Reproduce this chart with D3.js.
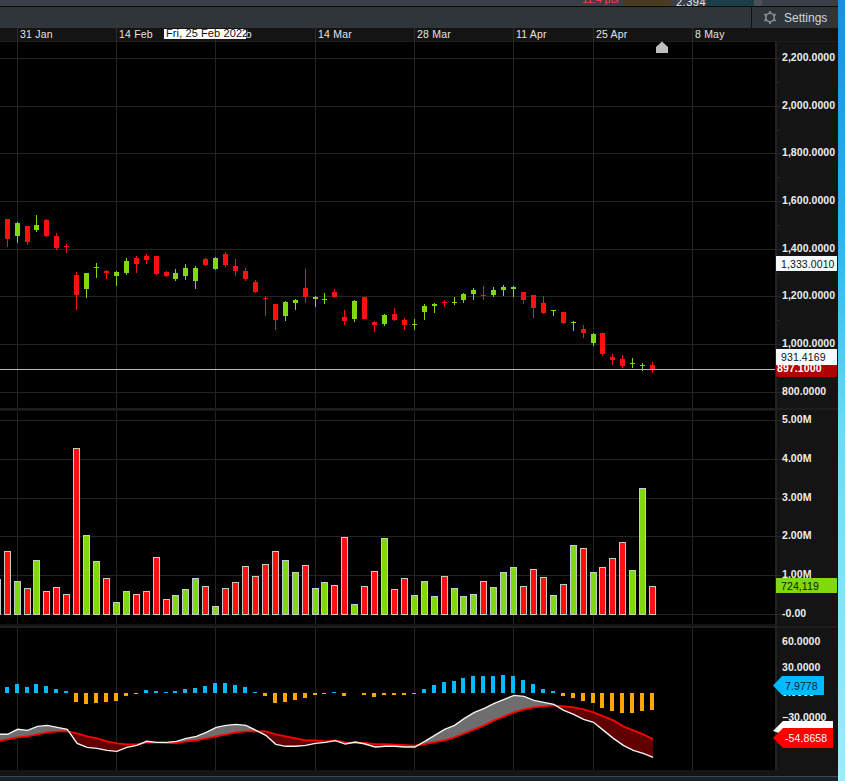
<!DOCTYPE html>
<html>
<head>
<meta charset="utf-8">
<script src="https://cdn.jsdelivr.net/npm/d3@7"></script>
<style>
  html, body { margin: 0; padding: 0; background: #141414; overflow: hidden; }
  svg { display: block; }
  text { font-family: "Liberation Sans", Arial, sans-serif; }
  .axis text { fill: #eeeeee; font-size: 10.5px; font-weight: bold; letter-spacing: 0.05px; }
  .axis path { display: none; }
  .axis line { stroke: #262626; }
</style>
</head>
<body>
<div id="chart"></div>
<script>
// ── Sessions (first one sits just off the left edge, last four are empty future slots) ──
const sessions = [
  '27 Jan', '28 Jan', '31 Jan', '1 Feb', '2 Feb', '3 Feb', '4 Feb', '7 Feb', '8 Feb', '9 Feb', '10 Feb', '11 Feb',
  '14 Feb', '15 Feb', '16 Feb', '17 Feb', '18 Feb', '21 Feb', '22 Feb', '23 Feb', '24 Feb', '25 Feb',
  '28 Feb', '1 Mar', '2 Mar', '3 Mar', '4 Mar', '7 Mar', '8 Mar', '9 Mar', '10 Mar', '11 Mar',
  '14 Mar', '15 Mar', '16 Mar', '17 Mar', '18 Mar', '21 Mar', '22 Mar', '23 Mar', '24 Mar', '25 Mar',
  '28 Mar', '29 Mar', '30 Mar', '31 Mar', '1 Apr', '4 Apr', '5 Apr', '6 Apr', '7 Apr', '8 Apr',
  '11 Apr', '12 Apr', '13 Apr', '14 Apr', '19 Apr', '20 Apr', '21 Apr', '22 Apr',
  '25 Apr', '26 Apr', '27 Apr', '28 Apr', '29 Apr', '2 May', '3 May',
  '4 May', '5 May', '6 May', '8 May'
];

const opens = [1526, 1526, 1454, 1496, 1480, 1522, 1454, 1412, 1291, 1232, 1320, 1308, 1287, 1299, 1362, 1370, 1370, 1303, 1274, 1287, 1266, 1358, 1316, 1379, 1329, 1308, 1261, 1194, 1169, 1119, 1173, 1236, 1190, 1186, 1219, 1114, 1106, 1198, 1094, 1085, 1127, 1102, 1081, 1135, 1161, 1177, 1173, 1186, 1211, 1207, 1207, 1228, 1232, 1219, 1207, 1173, 1140, 1135, 1089, 1064, 1005, 1047, 947, 938, 917, 909, 913];
const highs = [1535, 1526, 1513, 1496, 1543, 1526, 1467, 1421, 1303, 1299, 1341, 1312, 1308, 1362, 1370, 1379, 1370, 1308, 1316, 1337, 1329, 1362, 1366, 1387, 1358, 1320, 1270, 1203, 1169, 1182, 1190, 1316, 1203, 1215, 1232, 1144, 1186, 1198, 1098, 1127, 1152, 1110, 1106, 1169, 1173, 1186, 1198, 1215, 1236, 1245, 1240, 1249, 1245, 1219, 1207, 1203, 1144, 1135, 1098, 1081, 1047, 1047, 959, 955, 942, 921, 926];
const lows = [1470, 1408, 1425, 1417, 1471, 1449, 1396, 1383, 1144, 1194, 1278, 1274, 1245, 1291, 1299, 1337, 1291, 1282, 1266, 1270, 1232, 1329, 1312, 1324, 1287, 1266, 1215, 1119, 1060, 1098, 1144, 1173, 1156, 1169, 1194, 1081, 1094, 1106, 1052, 1077, 1098, 1060, 1060, 1102, 1131, 1156, 1165, 1173, 1186, 1186, 1198, 1203, 1198, 1169, 1110, 1127, 1119, 1085, 1056, 1026, 993, 951, 913, 900, 900, 888, 879];
const closes = [1500, 1442, 1509, 1429, 1501, 1454, 1404, 1408, 1207, 1299, 1324, 1299, 1303, 1349, 1337, 1354, 1295, 1287, 1299, 1320, 1320, 1333, 1362, 1333, 1308, 1274, 1219, 1190, 1102, 1177, 1186, 1198, 1198, 1190, 1198, 1098, 1182, 1106, 1081, 1123, 1102, 1081, 1085, 1161, 1169, 1173, 1177, 1211, 1228, 1203, 1228, 1240, 1240, 1186, 1152, 1131, 1144, 1089, 1094, 1047, 1043, 959, 934, 909, 921, 913, 897.1];

// Volume in millions
const volumes = [0.89, 1.63, 0.85, 0.67, 1.39, 0.59, 0.70, 0.52, 4.28, 2.04, 1.37, 0.93, 0.31, 0.59, 0.52, 0.59, 1.47, 0.39, 0.49, 0.65, 0.93, 0.72, 0.21, 0.67, 0.83, 1.24, 0.98, 1.29, 1.63, 1.39, 1.08, 1.26, 0.67, 0.83, 0.75, 1.99, 0.26, 0.72, 1.11, 1.96, 0.65, 0.93, 0.49, 0.85, 0.46, 0.98, 0.67, 0.46, 0.52, 0.85, 0.70, 1.08, 1.21, 0.72, 1.16, 0.95, 0.49, 0.77, 1.78, 1.70, 1.08, 1.21, 1.44, 1.86, 1.14, 3.25, 0.724];

const macdLine = [-48.9, -48.9, -43.0, -44.2, -39.5, -38.3, -40.7, -43.0, -59.6, -64.3, -65.5, -67.9, -69.1, -64.3, -62.0, -57.2, -58.4, -58.4, -57.2, -53.7, -51.3, -46.6, -40.7, -38.3, -37.1, -38.3, -44.2, -50.1, -60.8, -63.1, -63.1, -62.0, -59.6, -58.4, -56.4, -60.4, -58.0, -60.4, -63.9, -63.1, -63.1, -63.9, -63.9, -57.2, -50.1, -43.0, -38.3, -30.0, -22.9, -18.2, -12.3, -7.5, -2.8, -4.0, -8.7, -11.1, -13.4, -20.5, -25.3, -31.2, -34.7, -44.2, -53.7, -62.0, -67.9, -71.4, -76.2];
const signalLine = [-57.2, -54.9, -52.5, -51.3, -48.9, -46.6, -45.4, -45.4, -47.8, -51.3, -53.7, -57.2, -59.6, -60.8, -60.8, -58.8, -58.8, -59.2, -59.2, -57.2, -56.0, -53.7, -51.3, -48.9, -46.6, -45.4, -45.4, -45.4, -48.9, -51.3, -53.7, -56.0, -56.0, -57.2, -56.0, -58.4, -59.2, -59.2, -60.4, -60.4, -61.2, -61.6, -62.4, -60.4, -58.0, -56.0, -52.5, -47.8, -43.0, -38.3, -32.4, -27.6, -22.9, -19.4, -17.0, -15.8, -14.6, -15.8, -17.0, -19.4, -22.9, -27.6, -32.4, -39.5, -44.2, -48.9, -54.87];
const histogram = [5.9, 7.1, 10.7, 7.1, 10.7, 8.3, 4.7, 2.4, -10.7, -13.0, -11.8, -10.7, -9.5, -3.6, -1.2, 3.6, 2.4, 1.2, 2.4, 4.7, 5.9, 8.3, 11.8, 11.8, 9.5, 7.1, 1.2, -3.6, -11.8, -10.7, -8.3, -5.9, -2.4, -1.2, 1.2, -3.6, 0, -2.4, -4.7, -2.4, -2.4, -2.4, -1.2, 4.7, 9.5, 13.0, 14.2, 17.8, 20.1, 20.1, 20.1, 21.3, 20.1, 15.4, 10.7, 4.7, 2.4, -3.6, -5.9, -9.5, -11.8, -17.8, -21.3, -23.7, -23.7, -21.3, -20.1];

// ── Axis ticks ──
const dateTicks = ['31 Jan', '14 Feb', '28 Feb', '14 Mar', '28 Mar', '11 Apr', '25 Apr', '8 May'];
const priceTicks = [2200, 2000, 1800, 1600, 1400, 1200, 1000, 800];
const priceMinorTicks = [2100, 1900, 1700, 1500, 1300, 1100, 900];
const volumeTicks = [5, 4, 3, 2, 1, 0];
const volumeTickLabels = ['5.00M', '4.00M', '3.00M', '2.00M', '1.00M', '-0.00'];
const macdTicks = [60, 30, 0, -30];

// ── Readouts on the right ──
const lastVolumeLabel = '724,119';
const lastHistLabel = '7.9778';
const lastSignalLabel = '-54.8658';
const priceFlagHigh = 1333.001;
const priceFlagMid = 931.4169;
const lastPrice = 897.1;

const W = 845, H = 781;
const plotRight = 775, axisRight = 837;
const red = '#ff1010', green = '#7ed90f';

const svg = d3.select('#chart').append('svg').attr('width', W).attr('height', H);
const defs = svg.append('defs');

// ── Scales ──
const x = d3.scalePoint().domain(sessions).range([-2.75, -2.75 + 9.93 * (sessions.length - 1)]);
const col = function(i) { return Math.floor(x(sessions[i])); };
const yPrice = d3.scaleLinear().domain([2200, 800]).rangeRound([58, 391.7]);
const yVol = d3.scaleLinear().domain([0, 5]).rangeRound([614, 420]);
const yMacd = d3.scaleLinear().domain([0, 60]).range([693, 642.3]);

// ── Chrome ──
const wall = defs.append('linearGradient').attr('id', 'wall').attr('x1', 0).attr('x2', 0).attr('y1', 0).attr('y2', 1);
wall.append('stop').attr('offset', 0).attr('stop-color', '#1a8fe0');
wall.append('stop').attr('offset', 0.3).attr('stop-color', '#2ab4ee');
wall.append('stop').attr('offset', 0.55).attr('stop-color', '#6adbf5');
wall.append('stop').attr('offset', 1).attr('stop-color', '#9cecf9');

svg.append('rect').attr('width', W).attr('height', H).attr('fill', '#141414');
svg.append('rect').attr('x', 838).attr('width', 7).attr('height', H).attr('fill', 'url(#wall)');

// top strip
svg.append('rect').attr('width', 838).attr('height', 6).attr('fill', '#3a4049');
svg.append('rect').attr('y', 6).attr('width', 838).attr('height', 1).attr('fill', '#0a0a0a');
svg.append('rect').attr('y', 7).attr('width', 838).attr('height', 21).attr('fill', '#2f3539');
svg.append('rect').attr('x', 623).attr('width', 48).attr('height', 6).attr('fill', '#4a3a20');
svg.append('rect').attr('x', 707).attr('width', 47).attr('height', 6).attr('fill', '#1a3f4a');
svg.append('rect').attr('x', 754).attr('width', 8).attr('height', 6).attr('fill', '#4a5058');

const topClip = defs.append('clipPath').attr('id', 'topClip');
topClip.append('rect').attr('width', 838).attr('height', 6);
const topTexts = svg.append('g').attr('clip-path', 'url(#topClip)');
topTexts.append('text').attr('x', 582).attr('y', 3).attr('font-size', 10.5).attr('fill', '#ff3a3a').text('11.4 pts');
topTexts.append('text').attr('x', 676).attr('y', 6).attr('font-size', 11).attr('fill', '#e8e8e8').attr('letter-spacing', 0.5).text('2.394');

// settings button
svg.append('rect').attr('x', 751).attr('y', 7).attr('width', 1).attr('height', 21).attr('fill', '#101214');
const gear = svg.append('g').attr('transform', 'translate(770,17.5)');
gear.append('circle').attr('r', 4.2).attr('fill', 'none').attr('stroke', '#8b8f90').attr('stroke-width', 1.6);
d3.range(6).forEach(function(k) {
  const a = k * Math.PI / 3 + Math.PI / 6;
  gear.append('line')
    .attr('x1', Math.cos(a) * 4.2).attr('y1', Math.sin(a) * 4.2)
    .attr('x2', Math.cos(a) * 6.6).attr('y2', Math.sin(a) * 6.6)
    .attr('stroke', '#8b8f90').attr('stroke-width', 1.8);
});
svg.append('text').attr('x', 784).attr('y', 22).attr('font-size', 12).attr('fill', '#d4d6d6').text('Settings');

// ── Panels ──
const panels = [[41, 367], [411, 213], [628, 142]];
panels.forEach(function(p) {
  svg.append('rect').attr('x', 0).attr('y', p[0]).attr('width', plotRight).attr('height', p[1]).attr('fill', '#000');
});
svg.append('rect').attr('y', 408).attr('width', 838).attr('height', 2).attr('fill', '#1e1e1e');
svg.append('rect').attr('y', 626).attr('width', 838).attr('height', 2).attr('fill', '#1e1e1e');
svg.append('rect').attr('x', plotRight).attr('y', 41).attr('width', 2).attr('height', 729).attr('fill', '#222');
svg.append('rect').attr('y', 776).attr('width', 838).attr('height', 1).attr('fill', '#3b4650');
svg.append('rect').attr('y', 777).attr('width', 838).attr('height', 4).attr('fill', '#18222a');
svg.append('rect').attr('y', 41).attr('width', 838).attr('height', 1).attr('fill', '#1e1e1e');

// ── Vertical grid and date labels ──
const gridColor = '#242424';
dateTicks.forEach(function(d) {
  const gx = Math.floor(x(d)) + 0.5;
  panels.forEach(function(p) {
    svg.append('line').attr('x1', gx).attr('x2', gx).attr('y1', p[0]).attr('y2', p[0] + p[1]).attr('stroke', gridColor);
  });
  svg.append('line').attr('x1', gx).attr('x2', gx).attr('y1', 28).attr('y2', 41).attr('stroke', '#2c2c2c');
  svg.append('text').attr('x', gx + 2.5).attr('y', 38).attr('font-size', 10.5)
    .attr('letter-spacing', 0.2).attr('fill', '#e4e4e4').text(d);
});

// ── Horizontal grid ──
priceTicks.forEach(function(v) {
  svg.append('line').attr('x1', 0).attr('x2', plotRight).attr('y1', yPrice(v) + 0.5).attr('y2', yPrice(v) + 0.5).attr('stroke', gridColor);
});
volumeTicks.forEach(function(v) {
  svg.append('line').attr('x1', 0).attr('x2', plotRight).attr('y1', yVol(v) + 0.5).attr('y2', yVol(v) + 0.5).attr('stroke', gridColor);
});

// ── Candles ──
const candleData = closes.map(function(c, i) {
  return { i: i, o: opens[i], h: highs[i], l: lows[i], c: c, up: c >= opens[i] };
});
const candles = svg.append('g').selectAll('g').data(candleData).join('g')
  .attr('fill', function(d) { return d.up ? green : red; });
candles.append('rect')
  .attr('x', function(d) { return col(d.i); })
  .attr('width', 1)
  .attr('y', function(d) { return yPrice(d.h); })
  .attr('height', function(d) { return Math.max(1, yPrice(d.l) - yPrice(d.h)); });
candles.append('rect')
  .attr('x', function(d) { return col(d.i) - 2; })
  .attr('width', 5)
  .attr('y', function(d) { return yPrice(Math.max(d.o, d.c)); })
  .attr('height', function(d) { return Math.max(1, Math.abs(yPrice(d.o) - yPrice(d.c))); });

// last price line
svg.append('line').attr('x1', 0).attr('x2', plotRight)
  .attr('y1', yPrice(lastPrice) + 0.5).attr('y2', yPrice(lastPrice) + 0.5)
  .attr('stroke', '#b9b9b9');

// projected event marker
svg.append('path').attr('d', 'M656,53V47L662,41.5L668,47V53Z').attr('fill', '#bdbdbd');

// ── Volume bars ──
svg.append('g').selectAll('rect').data(volumes).join('rect')
  .attr('x', function(d, i) { return col(i) - 2.5; })
  .attr('width', 6)
  .attr('y', function(d) { return yVol(d) + 0.5; })
  .attr('height', function(d) { return 614 - yVol(d); })
  .attr('fill', function(d, i) { return closes[i] >= opens[i] ? green : red; })
  .attr('stroke', '#c9c9c9');

// ── MACD histogram ──
svg.append('g').selectAll('rect').data(histogram).join('rect')
  .attr('x', function(d, i) { return col(i) - 2; })
  .attr('width', 4)
  .attr('y', function(d) { return Math.min(yMacd(d), yMacd(0)); })
  .attr('height', function(d) { return Math.abs(yMacd(d) - yMacd(0)); })
  .attr('fill', function(d) { return d >= 0 ? '#00baff' : '#ffa50a'; });

// ── MACD / signal with filled gap ──
const idx = d3.range(macdLine.length);
const px = function(i) { return x(sessions[i]) + 0.5; };
const macdTop = 628, macdBottom = 770;

defs.append('clipPath').attr('id', 'belowMacd').append('path')
  .attr('d', d3.area().x(px).y0(function(i) { return yMacd(macdLine[i]); }).y1(macdBottom)(idx));
defs.append('clipPath').attr('id', 'belowSignal').append('path')
  .attr('d', d3.area().x(px).y0(function(i) { return yMacd(signalLine[i]); }).y1(macdBottom)(idx));

svg.append('path').attr('clip-path', 'url(#belowMacd)').attr('fill', '#6e6e6e')
  .attr('d', d3.area().x(px).y0(macdTop).y1(function(i) { return yMacd(signalLine[i]); })(idx));
svg.append('path').attr('clip-path', 'url(#belowSignal)').attr('fill', '#600000')
  .attr('d', d3.area().x(px).y0(macdTop).y1(function(i) { return yMacd(macdLine[i]); })(idx));

const macdPath = d3.line().x(px).y(function(i) { return yMacd(macdLine[i]); });
const signalPath = d3.line().x(px).y(function(i) { return yMacd(signalLine[i]); });
svg.append('path').attr('d', signalPath(idx)).attr('fill', 'none').attr('stroke', '#ff0000').attr('stroke-width', 1.8);
svg.append('path').attr('d', macdPath(idx)).attr('fill', 'none').attr('stroke', '#f4f4f4').attr('stroke-width', 1.4);

// ── Right axes ──
const priceAxis = d3.axisRight(yPrice).tickValues(priceTicks).tickFormat(d3.format(',.4f')).tickSize(7).tickPadding(0);
svg.append('g').attr('class', 'axis').attr('transform', 'translate(' + plotRight + ',0)').call(priceAxis)
  .selectAll('text').attr('dy', '.2em');
svg.append('g').selectAll('line').data(priceMinorTicks).join('line')
  .attr('x1', plotRight + 2).attr('x2', plotRight + 5)
  .attr('y1', function(d) { return yPrice(d) + 0.5; }).attr('y2', function(d) { return yPrice(d) + 0.5; })
  .attr('stroke', '#2a2a2a');

const volAxis = d3.axisRight(yVol).tickValues(volumeTicks)
  .tickFormat(function(d, i) { return volumeTickLabels[i]; }).tickSize(7).tickPadding(0);
svg.append('g').attr('class', 'axis').attr('transform', 'translate(' + plotRight + ',0)').call(volAxis)
  .selectAll('text').attr('dy', '.2em');

const macdAxis = d3.axisRight(yMacd).tickValues(macdTicks).tickFormat(d3.format('.4f')).tickSize(0).tickPadding(7);
svg.append('g').attr('class', 'axis').attr('transform', 'translate(' + plotRight + ',0)').call(macdAxis)
  .selectAll('text').attr('dy', '.25em');

// ── Price flags ──
function flag(y0, h, fill, label, textFill) {
  svg.append('rect').attr('x', 776).attr('y', y0).attr('width', axisRight - 776).attr('height', h).attr('fill', fill);
  svg.append('text').attr('x', 781).attr('y', y0 + h / 2 + 4).attr('font-size', 10.5).attr('letter-spacing', 0.1)
    .attr('fill', textFill).text(label);
}
const priceLabel = d3.format(',.4f');
svg.append('path').attr('d', 'M776,' + (yPrice(lastPrice) - 8) + 'H837V' + (yPrice(lastPrice) + 6) + 'Q837,' + (yPrice(lastPrice) + 8) + ' 835,' + (yPrice(lastPrice) + 8) + 'H778Q776,' + (yPrice(lastPrice) + 8) + ' 776,' + (yPrice(lastPrice) + 6) + 'Z').attr('fill', '#b30000');
svg.append('text').attr('x', 777).attr('y', yPrice(lastPrice) + 3).attr('font-size', 10.5).attr('font-weight', 'bold')
  .attr('letter-spacing', 0.1).attr('fill', '#fff').text(priceLabel(lastPrice));
flag(yPrice(priceFlagHigh) - 9, 15, '#f8fbff', priceLabel(priceFlagHigh), '#111');
flag(yPrice(priceFlagMid) - 11, 16, '#f8fbff', priceLabel(priceFlagMid), '#111');
flag(yVol(0.724) - 8, 15, green, lastVolumeLabel, '#0c2000');

// ── MACD tags ──
svg.append('path').attr('d', 'M773,685.5L782,676H824V695H782Z').attr('fill', '#00baff');
svg.append('text').attr('x', 785).attr('y', 689.5).attr('font-size', 10.5).attr('letter-spacing', 0.1).attr('fill', '#06222e').text(lastHistLabel);
svg.append('path').attr('d', 'M773,731L783,721H833V735H785Z').attr('fill', '#fff');
svg.append('path').attr('d', 'M773,738L783,728H833V748H783Z').attr('fill', '#ff0000');
svg.append('text').attr('x', 785).attr('y', 742).attr('font-size', 10.5).attr('letter-spacing', 0.1).attr('fill', '#fff').text(lastSignalLabel);

// ── Crosshair date tooltip ──
svg.append('rect').attr('x', 164).attr('y', 29).attr('width', 82).attr('height', 10).attr('fill', '#fff');
svg.append('text').attr('x', 166).attr('y', 37).attr('font-size', 11).attr('letter-spacing', 0.1).attr('fill', '#111').text('Fri, 25 Feb 2022');
</script>
</body>
</html>
